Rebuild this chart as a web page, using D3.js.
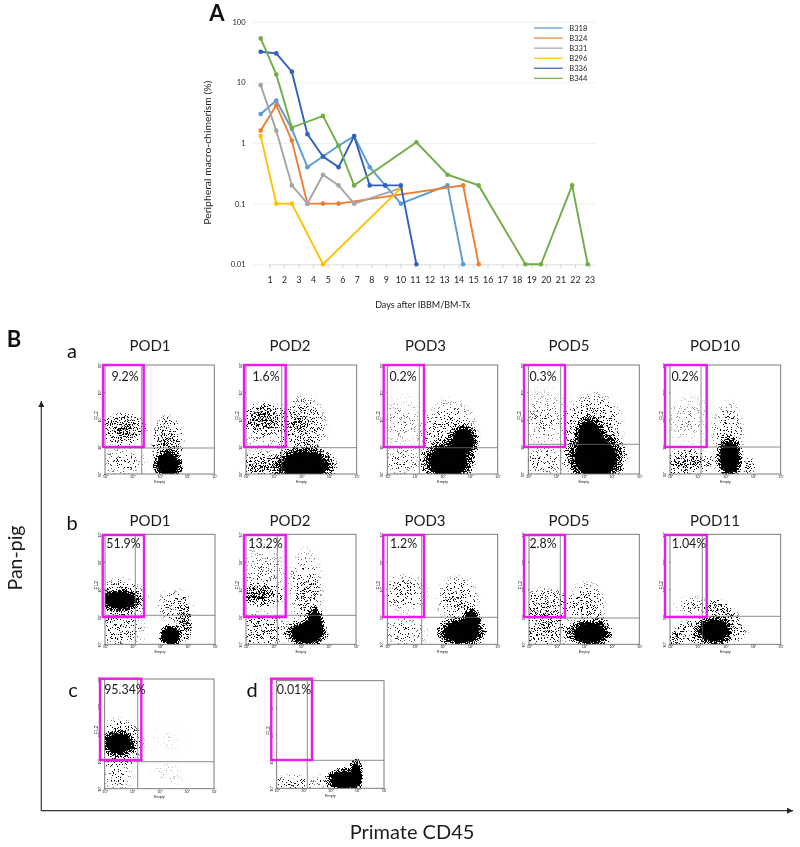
<!DOCTYPE html>
<html><head><meta charset="utf-8">
<script src="https://cdnjs.cloudflare.com/ajax/libs/d3/7.8.5/d3.min.js"></script>
<style>html,body{margin:0;padding:0;background:#fff}svg{display:block;filter:blur(.4px)}text{fill:#1c1c1c;font-family:Lato,"Open Sans",sans-serif}</style>
</head><body><svg id="c" width="800" height="847"></svg>
<script>
// ---- Panel A data (22 sampling points; null = no sample) ----
const tickDays=d3.range(1,24);
const yTicks=[100,10,1,0.1,0.01];
const seriesNames=["B318","B324","B331","B296","B336","B344"];
const seriesColors=["#5B9BD5","#ED7D31","#A5A5A5","#FFC000","#2F62BC","#70AD47"];
const B318=[3,5,1.7,0.4,0.6,0.9,1.3,0.4,0.2,0.1,null,null,0.2,0.01,null,null,null,null,null,null,null,null];
const B324=[1.6,4.2,1.1,0.1,0.1,0.1,null,null,null,null,null,null,null,0.2,0.01,null,null,null,null,null,null,null];
const B331=[9,1.6,0.2,0.1,0.3,0.2,0.1,null,null,0.18,null,null,null,null,null,null,null,null,null,null,null,null];
const B296=[1.3,0.1,0.1,null,0.01,null,null,null,null,0.18,null,null,null,null,null,null,null,null,null,null,null,null];
const B336=[32,30,15,1.4,0.6,0.4,1.3,0.2,0.2,0.2,0.01,null,null,null,null,null,null,null,null,null,null,null];
const B344=[53,13.5,1.8,null,2.8,0.9,0.2,null,null,null,1.03,null,0.3,null,0.2,null,null,0.01,0.01,null,0.2,0.01];
const seriesValues=[B318,B324,B331,B296,B336,B344];

// ---- Panel B: cell populations, read in decades: [x, y, spreadX, spreadY, density] (density>=1 = saturated) ----
const a1=[[.66,1.64,.8,.55,.72],[.66,.45,.85,.6,.22],[2.3,.35,.42,.42,1],[2.3,1.05,.55,1.05,.55]];
const a2=[[.63,2.05,.75,.5,.68],[.63,1.7,1,1,.18],[.6,.3,1.15,.45,.58],[2.1,.3,.85,.55,1],[2.05,1.65,.85,1.15,.42],[1.9,1.85,.3,.3,.5]];
const a3=[[.5,1.9,.95,1.05,.14],[.5,.45,.95,.55,.2],[2.2,.45,.72,.62,1],[2.75,1.2,.42,.48,1],[2.25,1.4,1,1.3,.32]];
const a4=[[.55,2,1.05,1.15,.17],[.55,.45,1.15,.55,.22],[2.42,.6,.82,.78,1],[2.2,1.4,.42,.55,1],[2.35,1.7,1,1.2,.45]];
const a5=[[.6,2,1,1.05,.12],[.6,.4,1,.48,.58],[2.15,.6,.36,.6,1],[2.1,1.4,.55,1.2,.32],[2.85,.3,.25,.3,.4]];
const b1=[[.55,1.6,.6,.32,1],[.55,1.6,.95,.75,.45],[.55,.5,.95,.58,.3],[2.4,.3,.32,.32,1],[2.9,.75,.27,.58,.8],[2.55,1.4,.65,.6,.32]];
const b2=[[.5,1.8,.85,.38,.8],[.6,2.5,1.05,1.4,.16],[.5,.5,1.05,.62,.38],[2.2,.4,.58,.37,1],[2.5,.7,.27,.52,1],[2.2,1.85,.6,1.55,.3]];
const b3=[[.6,1.85,.85,.68,.3],[.6,.45,.95,.62,.22],[2.7,.45,.67,.42,1],[3.05,.8,.27,.42,1],[2.55,1.6,.75,.85,.38]];
const b4=[[.6,1.4,1,.62,.38],[.5,.5,1.1,.62,.42],[2.2,.4,.62,.37,1],[2.55,.7,.3,.35,.8],[2.1,1.4,.65,.85,.36]];
const b5=[[.8,1.4,.65,.38,.2],[.2,.2,.27,.27,.7],[1.45,.45,1.25,.48,.62],[1.6,.5,.52,.42,1],[1.7,1.35,.42,.28,.55],[2.05,.9,.45,.42,.55]];
const c1=[[.5,1.65,.48,.38,1],[.5,1.65,.85,.85,.5],[.45,.5,.6,.62,.22],[2.3,.5,.65,.55,.09],[2.2,1.8,1,.7,.05]];
const d1=[[.6,.2,.95,.32,.28],[2.5,.3,.5,.35,1],[2.95,.5,.2,.46,1],[1.9,.3,.4,.3,.25]];

const decadeTicks=[0,1,2,3,4];
const panelTitles=["POD1","POD2","POD3","POD5","POD10","POD1","POD2","POD3","POD5","POD11","",""];
const panelGates=["9.2%","1.6%","0.2%","0.3%","0.2%","51.9%","13.2%","1.2%","2.8%","1.04%","95.34%","0.01%"];
const panelClouds=[a1,a2,a3,a4,a5,b1,b2,b3,b4,b5,c1,d1];
// layout: plot box, gate lines, magenta box, label centre
const panelLayout=[
 {l:105,r:214.3,t:365,b:474,gx:141.7,gy:448,m:[103,143.7,365,447],tx:150,ty:350.5,px:125,py:380.5},
 {l:246,r:356.7,t:365,b:474,gx:281.7,gy:447.7,m:[244,285.7,365,447],tx:290,ty:350.5,px:266,py:380.5},
 {l:387.3,r:497.7,t:365,b:474,gx:419.3,gy:447.7,m:[383.7,424,365,447],tx:425.5,ty:350.5,px:403,py:380.5},
 {l:528.3,r:639.3,t:365,b:474,gx:560.7,gy:444.3,m:[524,565,365,447],tx:569,ty:350.5,px:543,py:380.5},
 {l:670,r:780.7,t:365,b:474,gx:701,gy:447,m:[665,706.7,365,447],tx:715,ty:350.5,px:685,py:380.5},
 {l:105,r:215,t:534.3,b:644.3,gx:135.3,gy:615.3,m:[102.7,144,535,617],tx:150,ty:525.5,px:123.5,py:547.5},
 {l:246,r:356,t:534.3,b:644.3,gx:277.3,gy:615.3,m:[244,285.7,535,617],tx:290,ty:525.5,px:265.5,py:547.5},
 {l:387.3,r:497.7,t:534.3,b:644.3,gx:421.7,gy:617.3,m:[383.3,424,535,617],tx:425,ty:525.5,px:403.5,py:547.5},
 {l:529,r:639.3,t:534.3,b:644.3,gx:560.3,gy:618,m:[524,565,535,617],tx:569,ty:525.5,px:543,py:547.5},
 {l:670,r:780.7,t:534.3,b:644.3,gx:702.3,gy:616.3,m:[665,706.7,535,617],tx:715,ty:525.5,px:689,py:547.5},
 {l:104.7,r:214,t:679,b:788.7,gx:137.7,gy:761.7,m:[100,141.3,678.7,760],tx:0,ty:0,px:125,py:694},
 {l:276.7,r:384,t:680.7,b:788.3,gx:307.3,gy:760.3,m:[271.3,312,678.7,760],tx:0,ty:0,px:294,py:694}
];

const svg=d3.select("#c");
const defs=svg.append("defs");
function grad(id,stops){const g=defs.append("radialGradient").attr("id",id);
  stops.forEach(([o,a])=>g.append("stop").attr("offset",o).attr("stop-color","#000").attr("stop-opacity",a));}
grad("soft",[[0,.9],[.3,.72],[.6,.42],[.85,.2],[1,0]]);
grad("core",[[0,1],[.6,1],[.74,.72],[.87,.38],[1,0]]);
const f=defs.append("filter").attr("id","stip").attr("filterUnits","userSpaceOnUse")
  .attr("x",0).attr("y",0).attr("width",800).attr("height",847).attr("color-interpolation-filters","sRGB");
f.append("feTurbulence").attr("type","fractalNoise").attr("baseFrequency",1.3).attr("numOctaves",2).attr("seed",7).attr("result","n");
f.append("feColorMatrix").attr("in","n").attr("type","matrix").attr("values","0 0 0 0 0 0 0 0 0 0 0 0 0 0 0 3.2 0 0 0 -1.25").attr("result","na");
f.append("feComposite").attr("in","SourceGraphic").attr("in2","na").attr("operator","arithmetic")
  .attr("k1",0).attr("k2",1).attr("k3",1).attr("k4",-.9).attr("result","s");
f.append("feComponentTransfer").attr("in","s").attr("result","t").append("feFuncA").attr("type","linear").attr("slope",10).attr("intercept",0);
f.append("feComponentTransfer").attr("in","SourceGraphic").attr("result","mask").append("feFuncA").attr("type","linear").attr("slope",7).attr("intercept",-.1);
f.append("feComposite").attr("in","t").attr("in2","mask").attr("operator","in");

// ---- Panel A ----
const X0=260.7,X1=587.7;
const xp=d3.scalePoint().domain(d3.range(22)).range([X0,X1]);
const xl=d3.scaleLinear().domain([1,23]).range([269.5,589.5]);
const y=d3.scaleLog().domain([0.01,100]).range([264.3,21.7]);
const A=svg.append("g");
A.append("g").attr("transform","translate(253,0)")
 .call(d3.axisRight(y).tickValues(yTicks).tickSize(343).tickFormat(""))
 .call(g=>{g.select(".domain").remove();g.selectAll("line").attr("stroke","#ececec").attr("stroke-width",.8)});
A.append("g").attr("transform","translate(0,264.3)")
 .call(d3.axisBottom(xl).tickValues(tickDays).tickSize(4).tickPadding(8).tickFormat(d3.format("d")))
 .call(g=>{g.select(".domain").attr("stroke","#e4e4e4");g.selectAll("line").attr("stroke","#d8d8d8");
   g.selectAll("text").attr("font-size",8.8).attr("font-family","Lato").attr("fill","#333");});
A.append("g").attr("transform","translate(246.5,0)")
 .call(d3.axisLeft(y).tickValues(yTicks).tickSize(0).tickPadding(1).tickFormat(d=>String(d)))
 .call(g=>{g.select(".domain").remove();g.selectAll("text").attr("font-size",7.5).attr("font-family","Lato").attr("fill","#333");});
const line=d3.line().x(d=>xp(d.i)).y(d=>y(d.v));
seriesValues.forEach((vals,k)=>{
  const pts=vals.map((v,i)=>({i,v})).filter(d=>d.v!=null);
  A.append("path").attr("d",line(pts)).attr("fill","none").attr("stroke",seriesColors[k]).attr("stroke-width",1.9);
  A.selectAll(null).data(pts).join("circle").attr("cx",d=>xp(d.i)).attr("cy",d=>y(d.v)).attr("r",2.3).attr("fill",seriesColors[k]);
});
const leg=d3.scalePoint().domain(seriesNames).range([28,78.3]);
seriesNames.forEach((n,k)=>{
  A.append("line").attr("x1",534).attr("x2",562.7).attr("y1",leg(n)).attr("y2",leg(n)).attr("stroke",seriesColors[k]).attr("stroke-width",1.2);
  A.append("text").attr("x",569.3).attr("y",leg(n)+2.6).attr("font-size",7.6).text(n);
});
A.append("text").attr("transform","translate(211,152.7) rotate(-90)").attr("text-anchor","middle").attr("font-size",10.4).text("Peripheral macro-chimerism (%)");
A.append("text").attr("x",422.7).attr("y",307.5).attr("text-anchor","middle").attr("font-size",9).text("Days after IBBM/BM-Tx");

// ---- Panel B ----
const fmtDec=d=>"10"+"\u2070\u00B9\u00B2\u00B3\u2074"[d];
const soften=d=>d[4]>=1?1.45:1.2;
panelLayout.forEach((p,i)=>{
  const g=svg.append("g");
  const sx=d3.scaleLinear().domain([0,4]).range([p.l,p.r]);
  const sy=d3.scaleLinear().domain([0,4]).range([p.b,p.t]);
  const id="clip"+i;
  defs.append("clipPath").attr("id",id).append("rect").attr("x",p.l).attr("y",p.t).attr("width",p.r-p.l).attr("height",p.b-p.t);
  g.append("g").attr("clip-path",`url(#${id})`).append("g").attr("filter","url(#stip)")
   .selectAll("ellipse").data(panelClouds[i]).join("ellipse")
   .attr("cx",d=>sx(d[0])).attr("cy",d=>sy(d[1]))
   .attr("rx",d=>(sx(d[2])-sx(0))*soften(d)).attr("ry",d=>(sy(0)-sy(d[3]))*soften(d))
   .attr("fill",d=>d[4]>=1?"url(#core)":"url(#soft)").attr("fill-opacity",d=>Math.min(1,d[4]));
  g.append("rect").attr("x",p.l).attr("y",p.t).attr("width",p.r-p.l).attr("height",p.b-p.t).attr("fill","none").attr("stroke","#6e6e6e").attr("stroke-width",.9);
  g.append("line").attr("x1",p.gx).attr("x2",p.gx).attr("y1",p.t).attr("y2",p.b).attr("stroke","#6e6e6e").attr("stroke-width",.8);
  g.append("line").attr("x1",p.l).attr("x2",p.r).attr("y1",p.gy).attr("y2",p.gy).attr("stroke","#6e6e6e").attr("stroke-width",.8);
  g.append("g").attr("transform",`translate(0,${p.b})`)
   .call(d3.axisBottom(sx).tickValues(decadeTicks).tickSize(1).tickPadding(.5).tickFormat(fmtDec))
   .call(a=>{a.select(".domain").remove();a.selectAll("text").attr("font-size",3.8).attr("font-family","Liberation Sans");a.selectAll("line").attr("stroke","#666")});
  g.append("g").attr("transform",`translate(${p.l},0)`)
   .call(d3.axisLeft(sy).tickValues(decadeTicks).tickSize(1).tickPadding(1).tickFormat(fmtDec))
   .call(a=>{a.select(".domain").remove();a.selectAll("line").attr("stroke","#666");
     a.selectAll("text").attr("font-size",3.8).attr("font-family","Liberation Sans").attr("text-anchor","middle").attr("dy",0).attr("x",0)
      .attr("transform",d=>`translate(-4,0) rotate(-90)`);});
  g.append("text").attr("x",(p.l+p.r)/2).attr("y",p.b+9).attr("text-anchor","middle").attr("font-size",3.8).style("font-family","Liberation Sans").text("Empty");
  g.append("text").attr("transform",`translate(${p.l-7},${sy(2)-4}) rotate(-90)`).attr("text-anchor","middle").attr("font-size",5).style("font-family","Liberation Sans").text("FL2");
  g.append("rect").attr("x",p.m[0]).attr("y",p.m[2]).attr("width",p.m[1]-p.m[0]).attr("height",p.m[3]-p.m[2]).attr("fill","none").attr("stroke","#EE18EE").attr("stroke-width",2.4);
  if(panelTitles[i]) g.append("text").attr("x",p.tx).attr("y",p.ty).attr("text-anchor","middle").attr("font-size",15).text(panelTitles[i]);
  g.append("text").attr("x",p.px).attr("y",p.py).attr("text-anchor","middle").attr("font-size",12.4).text(panelGates[i]);
});

// ---- Labels and big axes ----
const big=svg.append("g");
[["A",217,21,22,700],["B",14,347,22,700],["a",72,358,20,400],["b",72,530,20,400],["c",73,697,20,400],["d",252,697,20,400]]
 .forEach(([s,x,yy,fs,w])=>big.append("text").attr("x",x).attr("y",yy).attr("text-anchor","middle").attr("font-size",fs).attr("font-weight",w).style("fill","#111").text(s));
const mk=defs.append("marker").attr("id","arr").attr("markerWidth",8).attr("markerHeight",8).attr("refX",6).attr("refY",3).attr("orient","auto").attr("markerUnits","userSpaceOnUse");
mk.append("path").attr("d","M0,0L6,3L0,6Z").attr("fill","#222");
big.append("line").attr("x1",41.3).attr("y1",811).attr("x2",41.3).attr("y2",401).attr("stroke","#333").attr("stroke-width",1.2).attr("marker-end","url(#arr)");
big.append("line").attr("x1",41).attr("y1",810.7).attr("x2",793).attr("y2",810.7).attr("stroke","#333").attr("stroke-width",1.2).attr("marker-end","url(#arr)");
big.append("text").attr("transform","translate(22,558) rotate(-90)").attr("text-anchor","middle").attr("font-size",19.5).text("Pan-pig");
big.append("text").attr("x",412).attr("y",839).attr("text-anchor","middle").attr("font-size",20).text("Primate CD45");
</script></body></html>
